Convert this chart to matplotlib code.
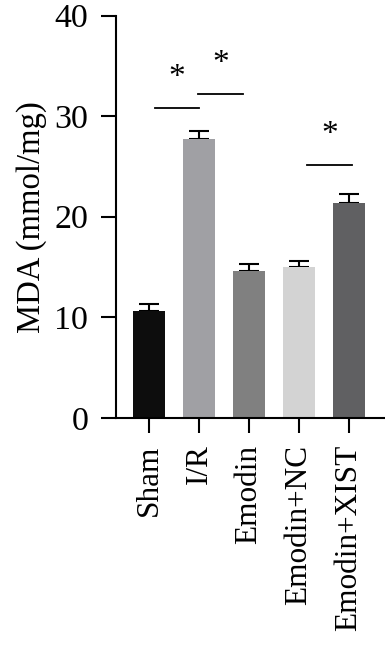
import numpy as np
import matplotlib.pyplot as plt

plt.rcParams['font.family'] = ['Liberation Serif', 'DejaVu Serif']

groups = ['Sham', 'I/R', 'Emodin', 'Emodin+NC', 'Emodin+XIST']
mda = [10.6, 27.7, 14.6, 15.0, 21.35]
err = [0.75, 0.85, 0.7, 0.65, 0.95]
colors = ['#0d0d0d', '#a0a0a4', '#808080', '#d3d3d3', '#606062']

# significance brackets: (x start, x end, line height, star height)
sig = [(0.12, 1.0, 30.8, 33.8), (0.98, 1.88, 32.2, 35.2), (3.16, 4.06, 25.1, 28.1)]

fig = plt.figure(figsize=(3.85, 6.46), dpi=100)
ax = fig.add_axes([116 / 385, 1 - 418 / 646, 1 - 116 / 385, (418 - 15.5) / 646])

x = np.arange(len(groups))
ax.bar(x, mda, width=0.64, color=colors, zorder=2)
ax.errorbar(x, mda, yerr=[np.zeros(len(err)), err], fmt='none', ecolor='black',
            elinewidth=1.5, capsize=7, capthick=1.5, zorder=1)

for x0, x1, h, s in sig:
    ax.plot([x0, x1], [h, h], color='black', lw=1.3)
    ax.text((x0 + x1) / 2, s, '*', ha='center', va='center', fontsize=24)

ax.set_xlim(-0.66, 4.72)
ax.set_ylim(0, 40)
ax.set_yticks([0, 10, 20, 30, 40])
ax.set_xticks(x)
ax.set_xticklabels(groups, rotation=90, fontsize=22.5)
ax.set_ylabel('MDA (mmol/mg)', fontsize=23.5, labelpad=5)

for side in ['top', 'right']:
    ax.spines[side].set_visible(False)
for side in ['left', 'bottom']:
    ax.spines[side].set_linewidth(1.5)
ax.tick_params(axis='both', width=1.5, length=11)
ax.tick_params(axis='y', pad=9, labelsize=24.5)
ax.tick_params(axis='x', pad=8)

fig.savefig('out.png', dpi=100)
